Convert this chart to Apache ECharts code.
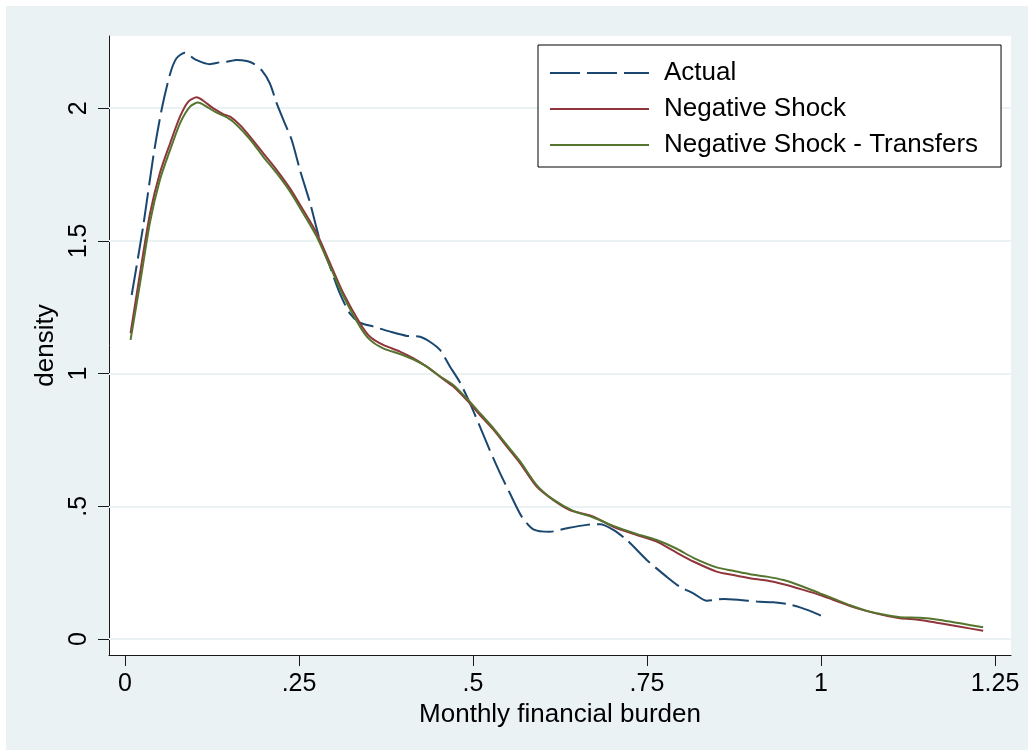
<!DOCTYPE html>
<html>
<head>
<meta charset="utf-8">
<script src="https://cdn.jsdelivr.net/npm/echarts@6/dist/echarts.min.js"></script>
<style>
  html, body { margin: 0; padding: 0; background: #ffffff; }
  #chart { position: absolute; left: 6px; top: 6px; width: 1022px; height: 744px; }
</style>
</head>
<body>
<div id="chart"></div>
<script>
// Kernel density of monthly financial burden
const actualX = [0.0096, 0.026, 0.041, 0.053, 0.065, 0.074, 0.086, 0.1006, 0.122, 0.1365, 0.146, 0.1605, 0.175, 0.184, 0.196, 0.208, 0.218, 0.2275, 0.2395, 0.2514, 0.266, 0.280, 0.2945, 0.309, 0.323, 0.3376, 0.357, 0.381, 0.405, 0.424, 0.438, 0.4526, 0.467, 0.481, 0.4957, 0.510, 0.524, 0.539, 0.553, 0.570, 0.5867, 0.6106, 0.6346, 0.6633, 0.6825, 0.7016, 0.721, 0.7496, 0.778, 0.797, 0.8166, 0.836, 0.860, 0.8836, 0.9076, 0.9315, 0.9507, 0.9698, 0.9866, 1.001];
const actualY = [1.296, 1.553, 1.824, 2.000, 2.131, 2.188, 2.209, 2.184, 2.166, 2.173, 2.175, 2.182, 2.178, 2.169, 2.144, 2.094, 2.018, 1.956, 1.880, 1.767, 1.642, 1.503, 1.403, 1.300, 1.227, 1.192, 1.177, 1.158, 1.142, 1.139, 1.120, 1.089, 1.026, 0.968, 0.888, 0.800, 0.712, 0.624, 0.549, 0.461, 0.413, 0.404, 0.417, 0.430, 0.432, 0.411, 0.373, 0.298, 0.235, 0.197, 0.172, 0.144, 0.151, 0.147, 0.141, 0.138, 0.132, 0.119, 0.103, 0.087];

const shockX = [0.008, 0.0216, 0.036, 0.050, 0.0647, 0.079, 0.091, 0.103, 0.1125, 0.127, 0.141, 0.151, 0.165, 0.1796, 0.1987, 0.218, 0.237, 0.256, 0.2754, 0.2945, 0.3137, 0.3376, 0.352, 0.371, 0.395, 0.414, 0.4335, 0.4526, 0.4717, 0.491, 0.510, 0.529, 0.548, 0.5675, 0.5915, 0.615, 0.639, 0.673, 0.7016, 0.735, 0.764, 0.7927, 0.8166, 0.850, 0.874, 0.898, 0.922, 0.946, 0.9746, 0.9986, 1.018, 1.0417, 1.066, 1.0895, 1.1135, 1.142, 1.171, 1.200, 1.233];
const shockY = [1.152, 1.378, 1.604, 1.755, 1.867, 1.968, 2.025, 2.041, 2.028, 1.999, 1.978, 1.968, 1.937, 1.893, 1.830, 1.767, 1.698, 1.616, 1.529, 1.416, 1.303, 1.190, 1.139, 1.108, 1.083, 1.058, 1.026, 0.988, 0.951, 0.900, 0.844, 0.790, 0.727, 0.663, 0.574, 0.524, 0.486, 0.461, 0.423, 0.392, 0.367, 0.325, 0.292, 0.254, 0.241, 0.229, 0.220, 0.206, 0.185, 0.166, 0.147, 0.124, 0.105, 0.090, 0.078, 0.072, 0.059, 0.046, 0.031];

const transferX = [0.008, 0.0216, 0.036, 0.050, 0.0647, 0.079, 0.0934, 0.105, 0.117, 0.1317, 0.146, 0.1605, 0.1796, 0.1987, 0.218, 0.237, 0.256, 0.2754, 0.2945, 0.3137, 0.3376, 0.352, 0.371, 0.395, 0.414, 0.4335, 0.4526, 0.4717, 0.491, 0.510, 0.529, 0.548, 0.5675, 0.5915, 0.615, 0.644, 0.673, 0.7016, 0.735, 0.764, 0.7927, 0.8166, 0.850, 0.874, 0.898, 0.922, 0.946, 0.9746, 0.9986, 1.018, 1.0417, 1.066, 1.0895, 1.1135, 1.142, 1.171, 1.200, 1.233];
const transferY = [1.127, 1.340, 1.572, 1.729, 1.842, 1.943, 2.006, 2.021, 2.006, 1.983, 1.966, 1.937, 1.883, 1.817, 1.755, 1.686, 1.604, 1.516, 1.405, 1.292, 1.177, 1.127, 1.095, 1.074, 1.054, 1.026, 0.990, 0.957, 0.906, 0.851, 0.795, 0.733, 0.670, 0.580, 0.526, 0.483, 0.458, 0.426, 0.396, 0.373, 0.340, 0.306, 0.270, 0.257, 0.244, 0.235, 0.222, 0.197, 0.172, 0.152, 0.127, 0.106, 0.092, 0.082, 0.080, 0.072, 0.059, 0.044];

const seriesNames = ['Actual', 'Negative Shock', 'Negative Shock - Transfers'];

const xTickValues = [0, 0.25, 0.5, 0.75, 1, 1.25];
const xTickLabels = ['0', '.25', '.5', '.75', '1', '1.25'];
const yTickValues = [0, 0.5, 1, 1.5, 2];
const yTickLabels = ['0', '.5', '1', '1.5', '2'];

const pairs = (xs, ys) => xs.map((x, i) => [x, ys[i]]);
const labelFor = (values, labels) => v => {
  const i = values.findIndex(t => Math.abs(t - v) < 1e-9);
  return i >= 0 ? labels[i] : '';
};

const FONT = '"Liberation Sans", Arial, sans-serif';
const chart = echarts.init(document.getElementById('chart'), null, { renderer: 'canvas' });

chart.setOption({
  backgroundColor: '#eaf2f3',
  animation: false,
  grid: {
    left: 103, right: 17, top: 30, bottom: 95,
    show: true, backgroundColor: '#ffffff', borderWidth: 0
  },
  legend: {
    orient: 'vertical',
    left: 532, top: 39,
    backgroundColor: '#ffffff',
    borderColor: '#000000', borderWidth: 1,
    padding: [15, 23, 9, 11],
    // a thin key keeps the legend sample a plain line segment
    itemWidth: 99, itemHeight: 2, itemGap: 10,
    textStyle: { fontFamily: FONT, fontSize: 26, color: '#000000', lineHeight: 26, padding: [0, 0, 0, 10] },
    data: seriesNames
  },
  xAxis: {
    type: 'value',
    min: -0.023, max: 1.273,
    name: 'Monthly financial burden',
    nameLocation: 'middle', nameGap: 41,
    nameTextStyle: { fontFamily: FONT, fontSize: 26, color: '#000000' },
    axisLine: { show: true, onZero: false, lineStyle: { color: '#1a1a1a', width: 1 } },
    axisTick: { show: true, length: 11, customValues: xTickValues, lineStyle: { color: '#1a1a1a', width: 1 } },
    axisLabel: { customValues: xTickValues, formatter: labelFor(xTickValues, xTickLabels), margin: 17,
                 fontFamily: FONT, fontSize: 25, color: '#000000' },
    splitLine: { show: false }
  },
  yAxis: {
    type: 'value',
    min: -0.0603, max: 2.272,
    name: 'density',
    nameLocation: 'middle', nameGap: 40, nameRotate: 90,
    nameTextStyle: { fontFamily: FONT, fontSize: 26, color: '#000000' },
    axisLine: { show: true, onZero: false, lineStyle: { color: '#1a1a1a', width: 1 } },
    axisTick: { show: true, length: 11, customValues: yTickValues, lineStyle: { color: '#1a1a1a', width: 1 } },
    axisLabel: { customValues: yTickValues, formatter: labelFor(yTickValues, yTickLabels), rotate: 90, margin: 17,
                 fontFamily: FONT, fontSize: 25, color: '#000000' },
    splitLine: { show: false }
  },
  series: [
    {
      name: seriesNames[0], type: 'line', data: pairs(actualX, actualY),
      symbol: 'none', smooth: 0.25, z: 3,
      lineStyle: { color: '#1a476f', width: 2, type: [30, 7] },
      itemStyle: { color: '#1a476f' },
      markLine: {
        silent: true, symbol: 'none', z: 1,
        label: { show: false },
        lineStyle: { color: '#eaf2f3', width: 2, type: 'solid' },
        data: yTickValues.map(v => ({ yAxis: v }))
      }
    },
    {
      name: seriesNames[1], type: 'line', data: pairs(shockX, shockY),
      symbol: 'none', smooth: 0.25, z: 4,
      lineStyle: { color: '#90353b', width: 2 },
      itemStyle: { color: '#90353b' }
    },
    {
      name: seriesNames[2], type: 'line', data: pairs(transferX, transferY),
      symbol: 'none', smooth: 0.25, z: 5,
      lineStyle: { color: '#55752f', width: 2 },
      itemStyle: { color: '#55752f' }
    }
  ]
});
</script>
</body>
</html>
